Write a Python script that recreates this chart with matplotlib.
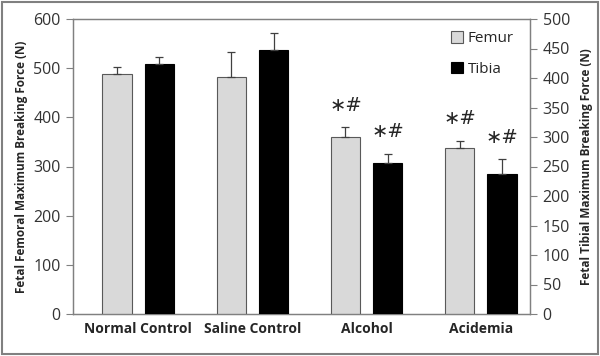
import matplotlib
matplotlib.use("Agg")
import matplotlib.pyplot as plt
import numpy as np
from matplotlib.patches import Rectangle

plt.rcParams["font.family"] = ["Open Sans", "DejaVu Sans"]

# データ
groups = ["Normal Control", "Saline Control", "Alcohol", "Acidemia"]
femur = [489, 482, 360, 338]
femur_err = [13, 51, 20, 14]
tibia = [423, 448, 256, 238]
tibia_err = [13, 28, 16, 24]
femur_marks = ["", "", "\u2217#", "\u2217#"]
tibia_marks = ["", "", "\u2217#", "\u2217#"]

fig = plt.figure(figsize=(6.0, 3.56), dpi=100)
ax = fig.add_axes([73 / 600, 1 - 314 / 356, 457 / 600, 295 / 356])
ax2 = ax.twinx()

x = np.arange(len(groups))
w = 0.255
gray = "#808080"
txt = "#262626"

ax.bar(x - 0.115, femur, w, color="#d9d9d9", edgecolor="#595959", linewidth=0.8,
       yerr=[np.zeros(len(femur)), femur_err], error_kw=dict(ecolor="#404040", elinewidth=0.9, capsize=3, capthick=0.9),
       label="Femur", zorder=3)
ax2.bar(x + 0.255, tibia, w, color="black", edgecolor="black", linewidth=0.8,
        yerr=[np.zeros(len(tibia)), tibia_err], error_kw=dict(ecolor="#404040", elinewidth=0.9, capsize=3, capthick=0.9),
        label="Tibia", zorder=3)

# 有意差マーク
for i in range(len(groups)):
    if femur_marks[i]:
        ax.text(x[i] - 0.115, femur[i] + femur_err[i] + 45, femur_marks[i], ha="center", va="center",
                fontsize=14, family=["DejaVu Sans"], color=txt)
    if tibia_marks[i]:
        ax2.text(x[i] + 0.255, tibia[i] + tibia_err[i] + 37, tibia_marks[i], ha="center", va="center",
                 fontsize=14, family=["DejaVu Sans"], color=txt)

ax.set_xlim(-0.5, 3.5)
ax.set_ylim(0, 600)
ax2.set_ylim(0, 500)
ax.set_yticks(range(0, 601, 100))
ax2.set_yticks(range(0, 501, 50))
ax.set_xticks(x + 0.07)
ax.set_xticklabels(groups, fontsize=10, fontweight="bold", color=txt)
ax.tick_params(axis="x", length=0, pad=6)
ax.tick_params(axis="y", labelsize=11.5, color=gray, labelcolor="#333333", length=5, pad=4)
ax2.tick_params(axis="y", labelsize=11.5, color=gray, labelcolor="#333333", length=5, pad=4)

for a in (ax, ax2):
    for s in a.spines.values():
        s.set_color(gray)
        s.set_linewidth(0.9)

ax.set_ylabel("Fetal Femoral Maximum Breaking Force (N)", fontsize=8.5, fontweight="bold", labelpad=4, color=txt)
ax2.set_ylabel("Fetal Tibial Maximum Breaking Force (N)", fontsize=8.5, fontweight="bold", rotation=90, labelpad=7,
               color=txt)

# 凡例
h1, l1 = ax.get_legend_handles_labels()
h2, l2 = ax2.get_legend_handles_labels()
ax2.legend(h1 + h2, l1 + l2, loc="upper right", bbox_to_anchor=(0.995, 1.005), frameon=False,
           fontsize=11, handlelength=0.8, handleheight=0.8, handletextpad=0.3, labelspacing=1.0,
           labelcolor=txt)

# 外枠
fig.patches.append(Rectangle((0.004, 0.006), 0.992, 0.988, transform=fig.transFigure,
                             fill=False, edgecolor=gray, linewidth=1.5))

fig.savefig("out.png", dpi=100)
